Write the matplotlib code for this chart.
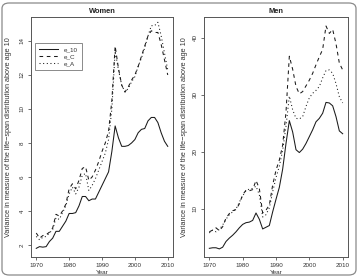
import matplotlib
matplotlib.use("Agg")
import matplotlib.pyplot as plt
from matplotlib.patches import FancyBboxPatch

plt.rcParams['font.family'] = ['Liberation Sans', 'DejaVu Sans']

years = list(range(1970, 2011))

women_e10 = [1.8, 1.9, 1.87, 1.9, 2.2, 2.4, 2.8, 2.8, 3.1, 3.4,
             3.85, 3.85, 3.9, 4.3, 4.85, 4.85, 4.6, 4.7, 4.7, 5.1,
             5.5, 5.9, 6.3, 7.5, 9.0, 8.3, 7.8, 7.8, 7.85, 8.0,
             8.2, 8.6, 8.8, 8.85, 9.3, 9.5, 9.5, 9.2, 8.6, 8.1, 7.8]
women_eC = [2.7, 2.4, 2.55, 2.6, 2.75, 3.0, 3.8, 3.7, 4.0, 4.4,
            5.3, 5.6, 5.3, 5.8, 6.5, 6.6, 5.8, 6.0, 6.4, 6.9,
            7.5, 8.0, 8.7, 10.5, 13.7, 12.4, 11.4, 11.0, 11.3, 11.7,
            12.0, 12.5, 13.1, 13.7, 14.3, 14.6, 14.5, 14.5, 13.8, 12.9, 12.0]
women_eA = [2.5, 2.3, 2.45, 2.5, 2.7, 2.9, 3.6, 3.5, 3.9, 4.3,
            5.0, 5.4, 5.0, 5.4, 6.1, 6.2, 5.2, 5.5, 5.9, 6.4,
            6.9, 7.4, 8.2, 10.0, 13.4, 12.3, 11.4, 11.0, 11.2, 11.6,
            11.9, 12.5, 13.0, 13.6, 14.3, 14.9, 14.9, 15.1, 14.3, 13.3, 12.3]

men_e10 = [3.1, 3.2, 3.2, 3.0, 3.3, 4.3, 4.9, 5.4, 6.0, 6.7,
           7.3, 7.6, 7.7, 8.0, 9.3, 8.2, 6.5, 6.8, 7.1, 9.5,
           11.7, 13.8, 17.0, 21.5, 25.5, 23.5, 20.4, 19.9, 20.5, 21.5,
           22.7, 23.9, 25.3, 25.9, 26.8, 28.7, 28.6, 28.1, 26.2, 23.7, 23.2]
men_eC = [6.0, 6.3, 6.7, 6.2, 6.9, 8.4, 9.2, 9.7, 9.9, 10.9,
          12.5, 13.3, 13.2, 13.4, 15.0, 13.6, 9.3, 9.8, 10.7, 14.2,
          16.8, 18.6, 21.2, 27.0, 36.8, 34.5, 31.5, 30.2, 30.6, 31.6,
          32.6, 33.8, 35.3, 36.7, 38.0, 42.1, 40.8, 41.5, 39.0, 35.6, 34.4]
men_eA = [5.8, 6.3, 6.0, 6.4, 7.2, 8.2, 9.0, 9.5, 10.0, 11.2,
          12.3, 13.2, 13.5, 13.6, 14.0, 12.5, 8.6, 9.0, 10.2, 13.0,
          15.5, 17.5, 20.3, 24.5, 29.8, 27.4, 25.9, 25.8, 26.2, 28.0,
          29.5, 30.3, 30.8, 31.5, 33.0, 34.3, 34.4, 33.8, 32.0, 29.7, 28.6]

series_labels = ["e_10", "e_C", "e_A"]
panel_titles = ["Women", "Men"]
xticks = [1970, 1980, 1990, 2000, 2010]
women_yticks = [2, 4, 6, 8, 10, 12, 14]
men_yticks = [10, 20, 30, 40]
ylabel = "Variance in measure of the life\u2212span distribution above age 10"
xlabel = "Year"

W, H = 359, 277
fig = plt.figure(figsize=(W / 100, H / 100), dpi=100)
fig.patch.set_facecolor("white")

# outer rounded frame
frame = FancyBboxPatch((2 / W, 2 / H), 1 - 5 / W, 1 - 5 / H,
                       boxstyle="round,pad=0,rounding_size=0.02",
                       transform=fig.transFigure, fill=False,
                       edgecolor="#8a8a8a", linewidth=0.9)
fig.patches.append(frame)

def px(x0, x1, y0, y1):
    return [x0 / W, 1 - y1 / H, (x1 - x0) / W, (y1 - y0) / H]

ax1 = fig.add_axes(px(31, 173, 17, 257))
ax2 = fig.add_axes(px(204, 348, 17, 257))

styles = [dict(ls="-"), dict(ls=(0, (3.5, 3.5))), dict(ls=(0, (1, 2.5)))]
txtc = "#333333"
axc = "#555555"

for ax, data, ylim, yt, title, xlab_x in [
        (ax1, [women_e10, women_eC, women_eA], (1.29, 15.41), women_yticks, panel_titles[0], 9),
        (ax2, [men_e10, men_eC, men_eA], (1.58, 43.68), men_yticks, panel_titles[1], 184)]:
    for d, st, lab in zip(data, styles, series_labels):
        ax.plot(years, d, color="#1a1a1a", lw=0.75, label=lab, **st)
    ax.set_xlim(1968.4, 2011.6)
    ax.set_ylim(*ylim)
    ax.set_xticks(xticks)
    ax.set_yticks(yt)
    ax.tick_params(axis="both", labelsize=4.5, length=2.5, width=0.6,
                   colors=axc, labelcolor=txtc, pad=2)
    for lab in ax.get_yticklabels():
        lab.set_rotation(90)
        lab.set_va("center")
    for sp in ax.spines.values():
        sp.set_color(axc)
        sp.set_linewidth(0.7)
    ax.set_title(title, fontsize=5.4, fontweight="bold", color="#222222", pad=3.0)
    ax.set_xlabel(xlabel, fontsize=4.6, color=txtc, labelpad=1.5)
    fig.text(xlab_x / W, 1 - 137 / H, ylabel, rotation=90, fontsize=5.2,
             color=txtc, ha="center", va="center")

leg = ax1.legend(loc="upper left", bbox_to_anchor=(4 / 142, 1 - 26 / 240),
                 fontsize=4.5, frameon=True, fancybox=False, handlelength=3.0,
                 borderpad=0.6, labelspacing=0.3, handletextpad=1.0,
                 borderaxespad=0)
leg.get_frame().set_edgecolor(axc)
leg.get_frame().set_linewidth(0.6)
for t in leg.get_texts():
    t.set_color(txtc)

fig.savefig("out.png", dpi=100, facecolor="white")
